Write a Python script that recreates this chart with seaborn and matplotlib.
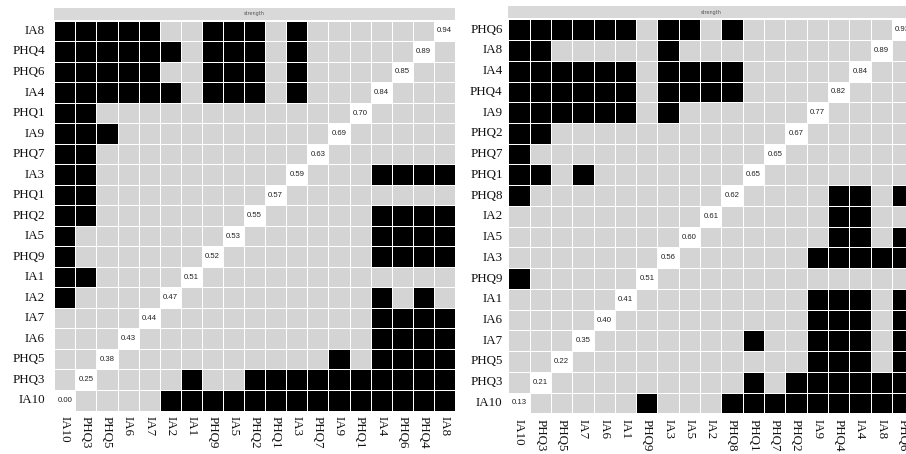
import numpy as np
import matplotlib.pyplot as plt
import seaborn as sns
from matplotlib.colors import ListedColormap

# rows listed top to bottom; columns are the same nodes in reverse order
left_nodes = ['IA8', 'PHQ4', 'PHQ6', 'IA4', 'PHQ1', 'IA9', 'PHQ7', 'IA3', 'PHQ1', 'PHQ2',
              'IA5', 'PHQ9', 'IA1', 'IA2', 'IA7', 'IA6', 'PHQ5', 'PHQ3', 'IA10']
left_strength = [0.94, 0.89, 0.85, 0.84, 0.70, 0.69, 0.63, 0.59, 0.57, 0.55,
                 0.53, 0.52, 0.51, 0.47, 0.44, 0.43, 0.38, 0.25, 0.00]
# 1 = significant difference (black), 0 = not significant (grey)
left_sig = ['1111100111010000000',
            '1111110111010000000',
            '1111100111010000000',
            '1111110111010000000',
            '1100000000000000000',
            '1110000000000000000',
            '1100000000000000000',
            '1100000000000001111',
            '1100000000000000000',
            '1100000000000001111',
            '1000000000000001111',
            '1000000000000001111',
            '1100000000000000000',
            '1000000000000001010',
            '0000000000000001111',
            '0000000000000001111',
            '0000000000000101111',
            '0000001001111111111',
            '0000011111111111111']

right_nodes = ['PHQ6', 'IA8', 'IA4', 'PHQ4', 'IA9', 'PHQ2', 'PHQ7', 'PHQ1', 'PHQ8', 'IA2',
               'IA5', 'IA3', 'PHQ9', 'IA1', 'IA6', 'IA7', 'PHQ5', 'PHQ3', 'IA10']
right_strength = [0.93, 0.89, 0.84, 0.82, 0.77, 0.67, 0.65, 0.65, 0.62, 0.61,
                  0.60, 0.56, 0.51, 0.41, 0.40, 0.35, 0.22, 0.21, 0.13]
right_sig = ['1111110110100000000',
             '1100000100000000000',
             '1111110111100000000',
             '1111110111100000000',
             '1111110100000000000',
             '1100000000000000000',
             '1000000000000000000',
             '1101000000000000000',
             '1000000000000001101',
             '0000000000000001100',
             '0000000000000001101',
             '0000000000000011111',
             '1000000000000000000',
             '0000000000000011101',
             '0000000000000011101',
             '0000000000010011101',
             '0000000000000011101',
             '0000000000010111111',
             '0000001000111111111']

cmap = ListedColormap(['#d4d4d4', '#000000', '#ffffff'])
serif = 'Liberation Serif'

fig = plt.figure(figsize=(9.06, 4.54), dpi=100)


def draw_panel(rect, strip_rect, nodes, strength, sig, ypad):
    n = len(nodes)
    codes = np.array([[int(c) for c in row] for row in sig])
    annot = np.full((n, n), '', dtype=object)
    for i in range(n):
        codes[i, n - 1 - i] = 2
        annot[i, n - 1 - i] = f'{strength[i]:.2f}'
    ax = fig.add_axes(rect)
    sns.heatmap(codes, ax=ax, cmap=cmap, vmin=0, vmax=2, cbar=False,
                linewidths=0.55, linecolor='white', annot=annot, fmt='',
                annot_kws={'fontsize': 5.6, 'color': '#222222', 'family': 'Liberation Sans'},
                xticklabels=nodes[::-1], yticklabels=nodes)
    ax.tick_params(axis='both', length=0)
    ax.tick_params(axis='x', labelrotation=-90, pad=4.3)
    ax.tick_params(axis='y', labelrotation=0, pad=ypad)
    for t in ax.get_xticklabels() + ax.get_yticklabels():
        t.set_family(serif)
        t.set_fontsize(9.4)
        t.set_color('#111111')
    strip = fig.add_axes(strip_rect)
    strip.set_facecolor('#d9d9d9')
    strip.set_xticks([])
    strip.set_yticks([])
    for s in strip.spines.values():
        s.set_visible(False)
    strip.text(0.5, 0.5, 'strength', ha='center', va='center', fontsize=3.5, color='#555555')
    return ax


draw_panel([0.0599, 0.0958, 0.4423, 0.8586], [0.0599, 0.9566, 0.4423, 0.0258],
           left_nodes, left_strength, left_sig, 6.7)
draw_panel([0.5610, 0.0896, 0.4470, 0.8678], [0.5610, 0.9597, 0.4470, 0.0264],
           right_nodes, right_strength, right_sig, 4.0)

plt.savefig('out.png', dpi=100)
